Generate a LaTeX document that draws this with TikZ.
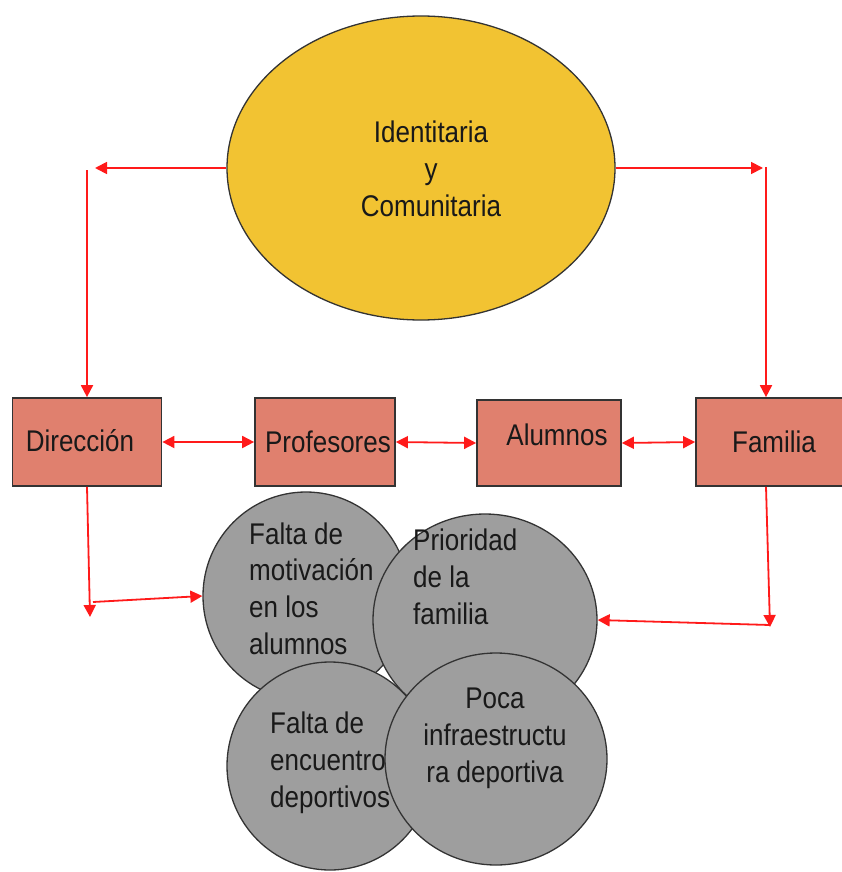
\documentclass[tikz,border=0pt]{standalone}
\usepackage{fontspec}
\setmainfont{Liberation Sans}
\usetikzlibrary{shapes.geometric,arrows.meta}
\definecolor{ellc}{HTML}{F2C332}
\definecolor{boxc}{HTML}{E0806E}
\definecolor{circc}{HTML}{9E9E9E}
\definecolor{edgec}{HTML}{333333}
\definecolor{arrc}{HTML}{FF1A1A}
\newcommand{\vtxt}[2][c]{\scalebox{1}[1.15]{\begin{tabular}{@{}#1@{}}#2\end{tabular}}}
\tikzset{
  txt/.style={font=\fontsize{26}{32}\selectfont, inner sep=0pt, text=black!90},
  stepbox/.style={draw=edgec, line width=1.7pt, fill=boxc, inner sep=0pt, font=\fontsize{26}{32}\selectfont},
  blob/.style={ellipse, draw=edgec, line width=1.3pt, fill=circc, inner sep=0pt},
  arr/.style={draw=arrc, line width=1.8pt, -{Triangle[length=12pt,width=12pt]}},
  darr/.style={draw=arrc, line width=1.8pt, {Triangle[length=12pt,width=12pt]}-{Triangle[length=12pt,width=12pt]}}
}
\begin{document}
\begin{tikzpicture}[x=1pt,y=-1pt]
\useasboundingbox (0,0) rectangle (841,872);
% top ellipse
\node[ellipse, draw=edgec, line width=1.3pt, fill=ellc, minimum width=388pt, minimum height=304pt, inner sep=0pt] (ell) at (421,168) {};
\node[txt] (elltext) at (431,172) {\vtxt{Identitaria\\y\\Comunitaria}};
% boxes
\node[stepbox, minimum width=149pt, minimum height=88pt] (dir) at (87,442) {};
\node[txt] (dirtext) at (80,444) {\vtxt{Dirección}};
\node[stepbox, minimum width=140pt, minimum height=88pt] (prof) at (325,442) {};
\node[txt] (proftext) at (328,445) {\vtxt{Profesores}};
\node[stepbox, minimum width=144pt, minimum height=86pt] (alu) at (549,443) {};
\node[txt] (alutext) at (557,438) {\vtxt{Alumnos}};
\node[stepbox, minimum width=148pt, minimum height=88pt] (fam) at (770,442) {};
\node[txt] (famtext) at (774,445) {\vtxt{Familia}};
% circles
\node[blob, minimum width=206pt, minimum height=208pt] (c1) at (306,596) {};
\node[blob, minimum width=224pt, minimum height=212pt] (c2) at (485,620) {};
\node[blob, minimum width=206pt, minimum height=208pt] (c3) at (330,766) {};
\node[blob, minimum width=222pt, minimum height=212pt] (c4) at (496,759) {};
\node[txt, anchor=west] (t1) at (249,592) {\vtxt[l]{Falta de\\motivación\\en los\\alumnos}};
\node[txt, anchor=west] (t2) at (413,580) {\vtxt[l]{Prioridad\\de la\\familia}};
\node[txt, anchor=west] (t3) at (270,763) {\vtxt[l]{Falta de\\encuentro\\deportivos}};
\node[txt] (t4) at (495,738) {\vtxt{Poca\\infraestructu\\ra deportiva}};
% connector coordinates
\coordinate (tl) at (95,168);
\coordinate (tlv) at (87,170);
\coordinate (tr) at (763,168);
\coordinate (trv) at (766,167);
\coordinate (bl) at (90,617);
\coordinate (blh) at (93,602);
\coordinate (br) at (770,627);
\coordinate (brh) at (770,625);
% connectors
\draw[arr] (ell.west) -- (tl);
\draw[arr] (tlv) -- (tlv |- dir.north);
\draw[arr] (ell.east) -- (tr);
\draw[arr] (trv) -- (trv |- fam.north);
\draw[darr] (dir.east) -- (prof.west);
\draw[darr] (prof.east) -- (alu.west);
\draw[darr] (alu.east) -- (fam.west);
\draw[arr] (dir.south) -- (bl);
\draw[arr] (blh) -- (c1.west);
\draw[arr] (fam.south -| trv) -- (br);
\draw[arr] (brh) -- (c2.east);
\end{tikzpicture}
\end{document}
